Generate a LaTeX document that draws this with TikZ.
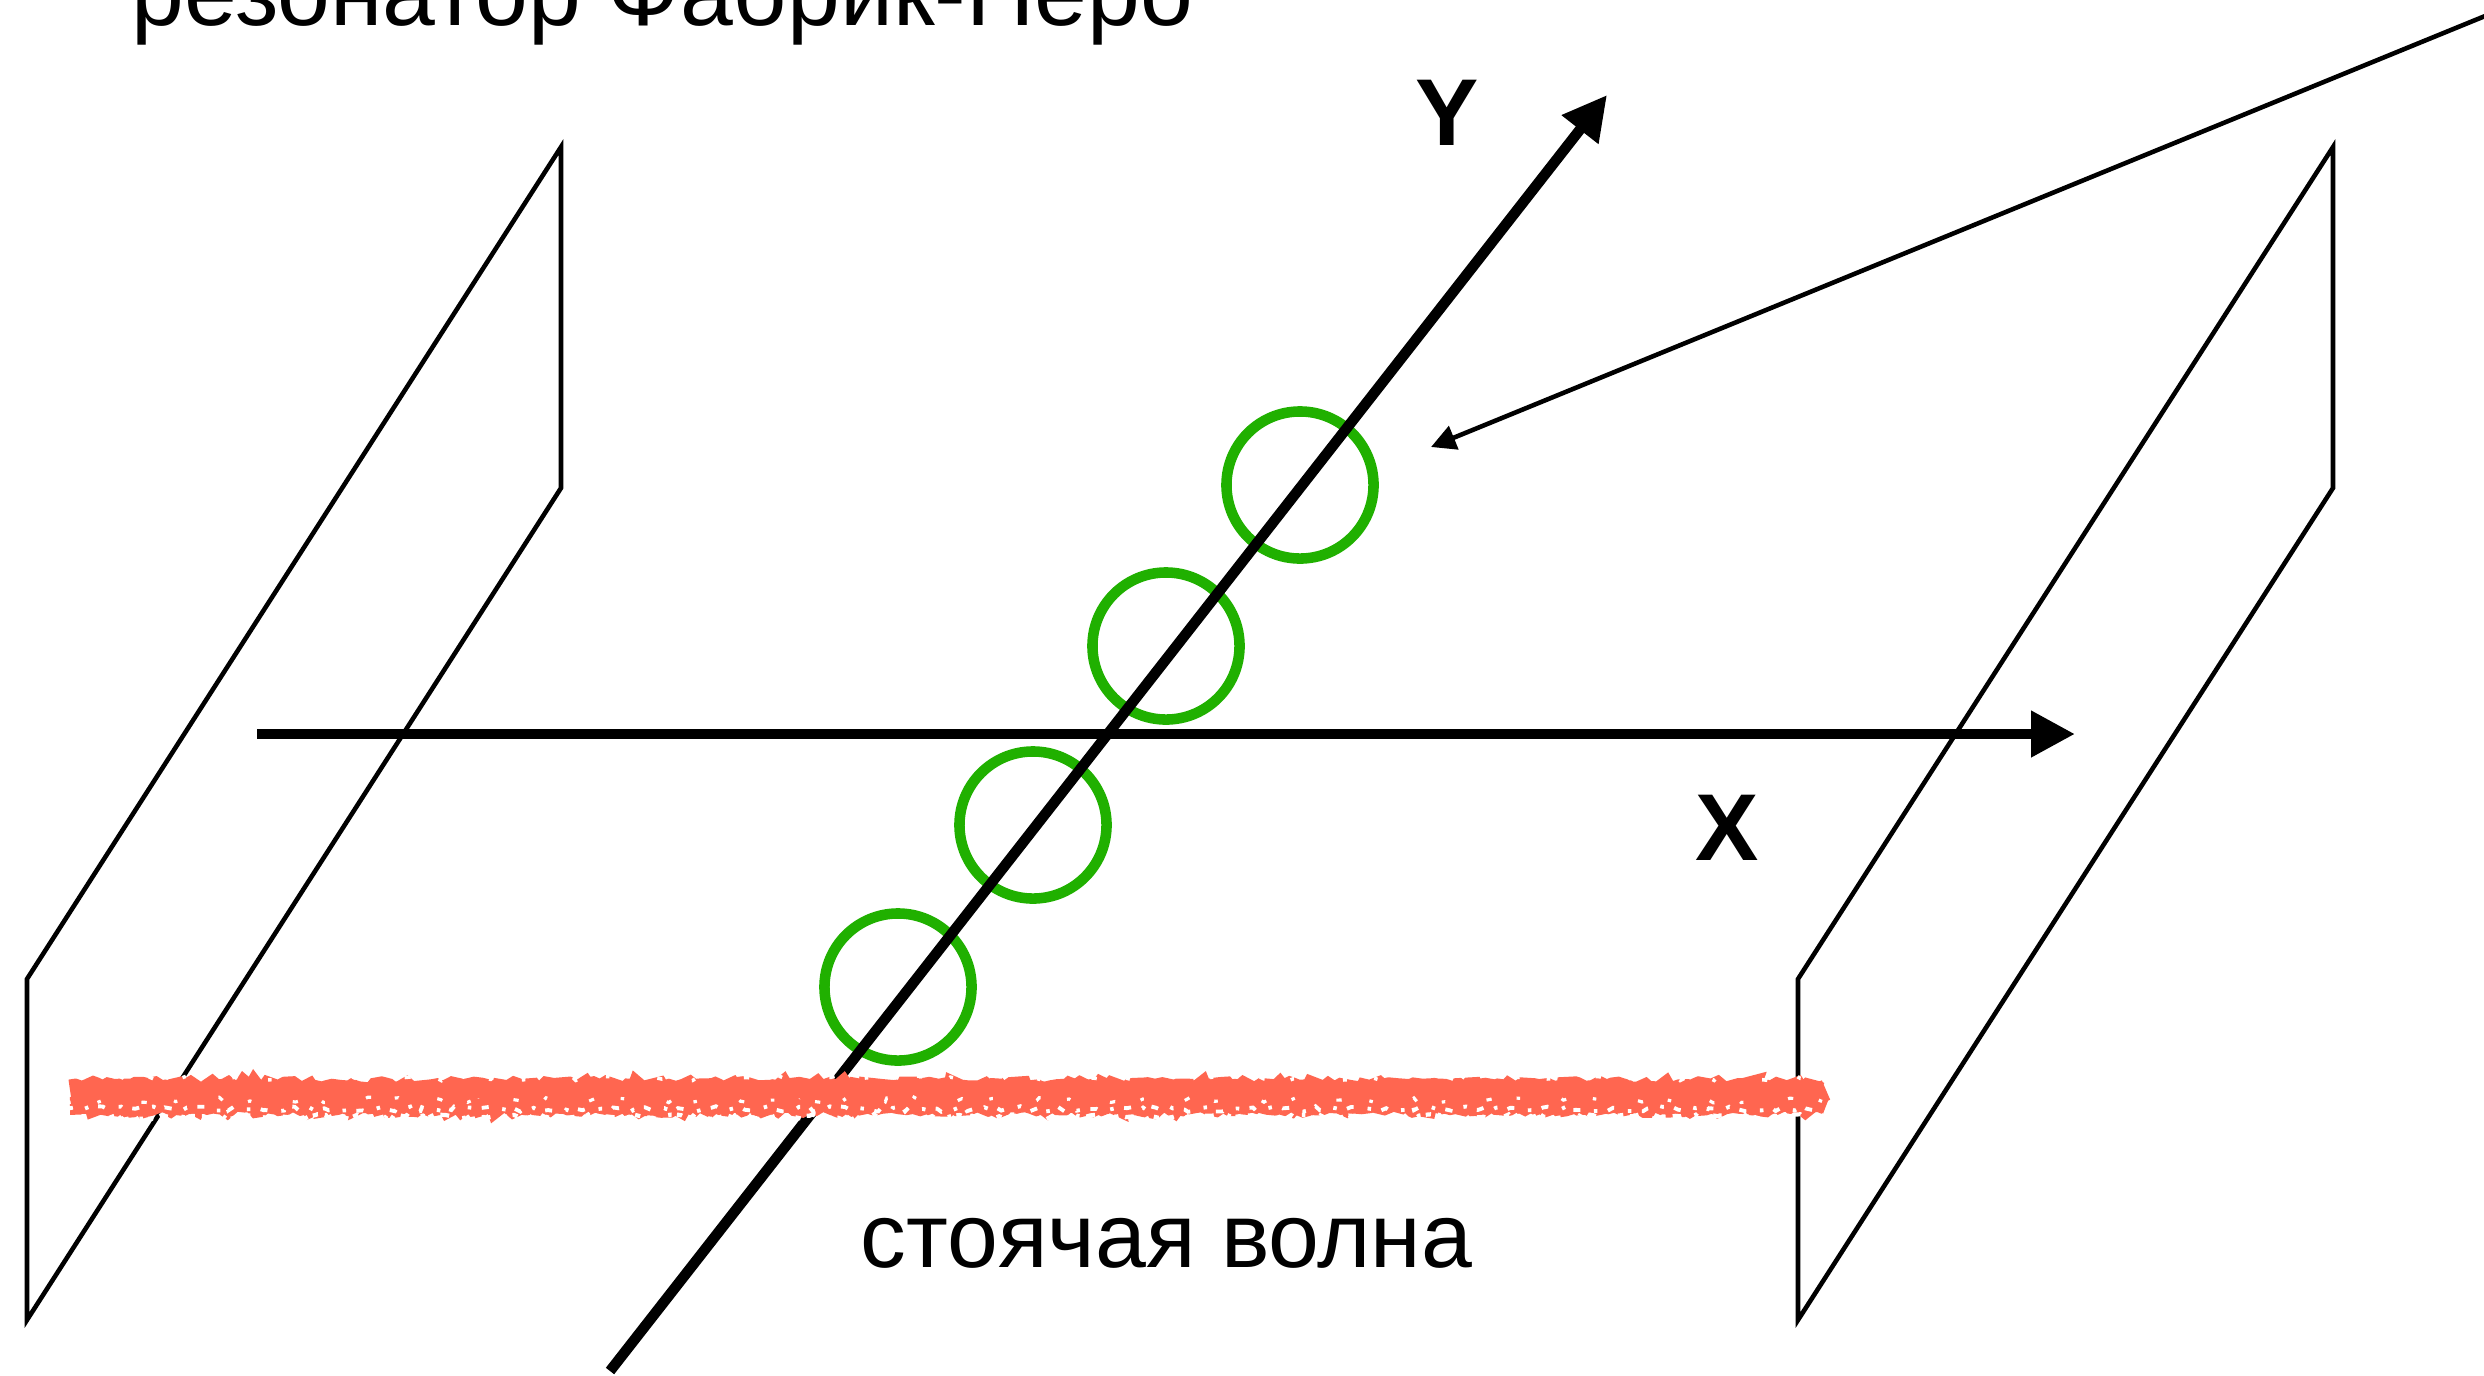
\documentclass[tikz,border=0pt]{standalone}
\usepackage{fontspec}
\setmainfont{Liberation Sans}
\usepackage{xcolor}
\usetikzlibrary{arrows.meta,decorations.pathmorphing}
\definecolor{RingGreen}{HTML}{20B000}
\definecolor{WaveRed}{HTML}{FF6650}
\tikzset{
  plate/.style={draw=black,line width=1.3pt},
  axisline/.style={-{Triangle[length=12.5pt,width=12.5pt]},draw=black,line width=3pt},
  pointer/.style={-{Triangle[length=7pt,width=7pt]},draw=black,line width=1.3pt},
  ring/.style={circle,draw=RingGreen,line width=3pt,minimum size=1.47cm,inner sep=0pt},
  wave/.style={draw=WaveRed,decorate,decoration={random steps,segment length=1.5pt,amplitude=.9pt}},
  speck/.style={draw=white,decorate,decoration={random steps,segment length=1.5pt,amplitude=.8pt}},
  caption/.style={font=\fontsize{26pt}{30pt}\selectfont,anchor=base west,inner sep=0pt},
  axislabel/.style={font=\fontsize{27pt}{30pt}\selectfont\bfseries,inner sep=0pt}
}
\begin{document}
\begin{tikzpicture}[x=0.01cm,y=-0.01cm]
  \useasboundingbox (0,0) rectangle (2484,1375);
  \pgfmathsetseed{7}
  % mirrors
  \draw[plate] (561,147) -- (561,488) -- (27,1320) -- (27,979) -- cycle;
  \draw[plate] (2333,147) -- (2333,488) -- (1798,1320) -- (1798,979) -- cycle;
  % rings along Y
  \node[ring] (ringa) at (1300,485) {};
  \node[ring] (ringb) at (1166,646) {};
  \node[ring] (ringc) at (1033,825) {};
  \node[ring] (ringd) at (898,987) {};
  % axes
  \coordinate (xstart) at (257,734);
  \coordinate (xend) at (2075,734);
  \coordinate (ystart) at (610,1371);
  \coordinate (yend) at (1607,95);
  \draw[axisline] (xstart) -- (xend);
  \draw[axisline] (ystart) -- (yend);
  \node[axislabel] (xlabel) at (1727,828) {X};
  \node[axislabel] (ylabel) at (1447,113) {Y};
  % pointer to the ring
  \coordinate (pointfrom) at (2490,14);
  \coordinate (pointto) at (1431,447);
  \draw[pointer] (pointfrom) -- (pointto);
  % standing wave
  \draw[wave,line width=6pt] (70,1090) -- (1826,1090);
  \draw[wave,line width=5pt] (70,1106) -- (1826,1106);
  \draw[speck,line width=1.2pt,dash pattern=on 1.5pt off 2pt on 2.5pt off 4pt on 1pt off 1.5pt] (66,1117) -- (1830,1117);
  \draw[speck,line width=1.1pt,dash pattern=on 2pt off 4pt on 1pt off 3pt] (66,1109) -- (1830,1109);
  \draw[speck,line width=.9pt,dash pattern=on 1.5pt off 8pt on 1pt off 13pt] (66,1100) -- (1830,1100);
  \draw[speck,line width=1pt,dash pattern=on 1.5pt off 9pt on 1pt off 15pt] (66,1078) -- (1830,1078);
  % captions
  \node[caption,font=\fontsize{27pt}{30pt}\selectfont] (cavity) at (131,25) {резонатор Фабрик-Перо};
  \node[caption] (standing) at (860,1267) {стоячая волна};
\end{tikzpicture}
\end{document}
